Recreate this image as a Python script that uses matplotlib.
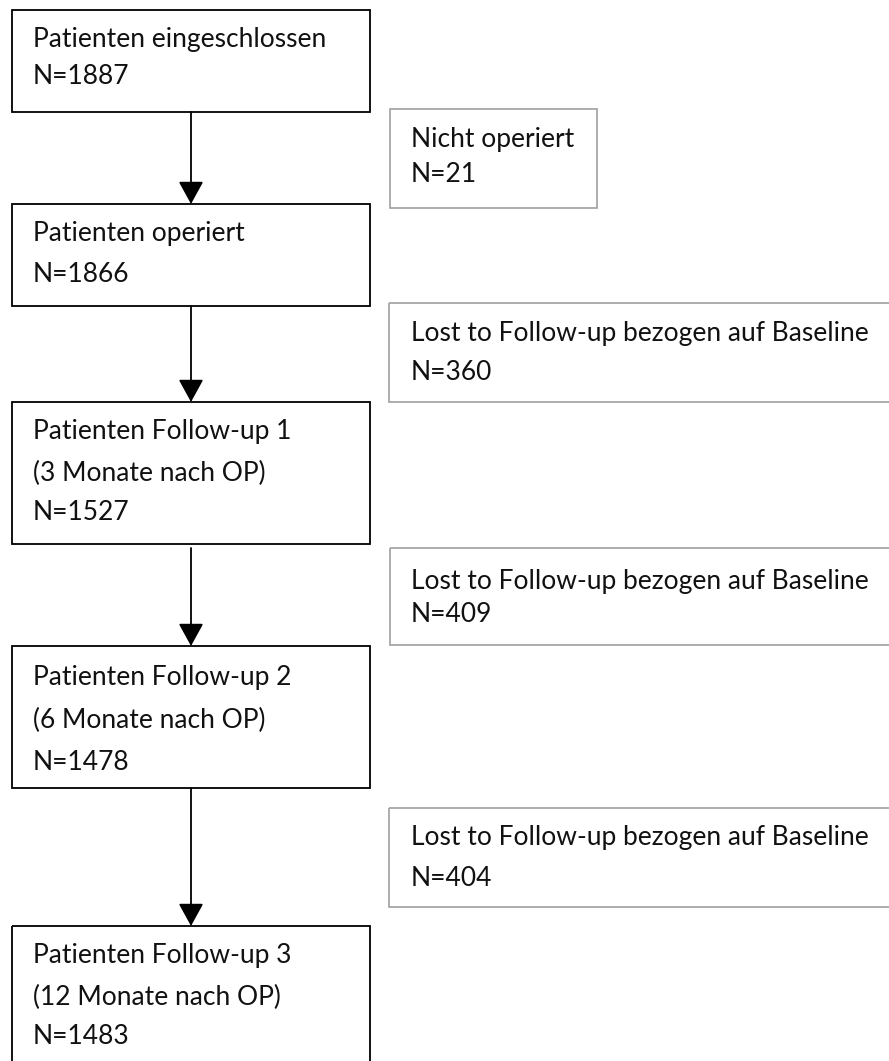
import matplotlib
matplotlib.use('Agg')
import matplotlib.pyplot as plt
from matplotlib.patches import Rectangle, FancyArrowPatch

# flow data
main_labels = ['Patienten eingeschlossen', 'Patienten operiert',
               'Patienten Follow-up 1\n(3 Monate nach OP)',
               'Patienten Follow-up 2\n(6 Monate nach OP)',
               'Patienten Follow-up 3\n(12 Monate nach OP)']
main_n = [1887, 1866, 1527, 1478, 1483]
side_labels = ['Nicht operiert',
               'Lost to Follow-up bezogen auf Baseline',
               'Lost to Follow-up bezogen auf Baseline',
               'Lost to Follow-up bezogen auf Baseline']
side_n = [21, 360, 409, 404]

# layout in pixels (y downwards)
main_top = [10, 204, 402, 646, 926]
main_bot = [112, 306, 544, 788, 1075]
main_text = [[40, 76], [233, 275], [432, 473, 513], [677, 720, 763], [955, 997, 1037]]
side_box = [(390, 597, 109, 208), (389, 900, 303, 402), (390, 900, 548, 645), (389, 900, 808, 907)]
side_text = [[139, 175], [333, 373], [581, 615], [837, 878]]
arrow_start = [112, 306, 548, 788]

W, H = 889, 1061
fig = plt.figure(figsize=(W / 100, H / 100), dpi=100)
ax = fig.add_axes([0, 0, 1, 1])
ax.set_xlim(0, W)
ax.set_ylim(H, 0)
ax.set_axis_off()

font = dict(family='Lato', fontsize=19, color='#111111', va='center', ha='left')

for i, lab in enumerate(main_labels):
    ax.add_patch(Rectangle((12, main_top[i]), 358, main_bot[i] - main_top[i],
                           fill=False, edgecolor='black', linewidth=1.3))
    lines = lab.split('\n') + ['N={}'.format(main_n[i])]
    for y, t in zip(main_text[i], lines):
        ax.text(33, y, t, **font)

for i, lab in enumerate(side_labels):
    x0, x1, y0, y1 = side_box[i]
    ax.add_patch(Rectangle((x0, y0), x1 - x0, y1 - y0,
                           fill=False, edgecolor='#a0a0a0', linewidth=1.2))
    lines = [lab, 'N={}'.format(side_n[i])]
    for y, t in zip(side_text[i], lines):
        ax.text(411, y, t, **font)

for i in range(4):
    ax.add_patch(FancyArrowPatch((191, arrow_start[i]), (191, main_top[i + 1]),
                                 arrowstyle='-|>,head_length=1.0,head_width=0.55',
                                 mutation_scale=14, color='black', linewidth=1.3,
                                 shrinkA=0, shrinkB=0))

fig.savefig('out.png', dpi=100, facecolor='white')
